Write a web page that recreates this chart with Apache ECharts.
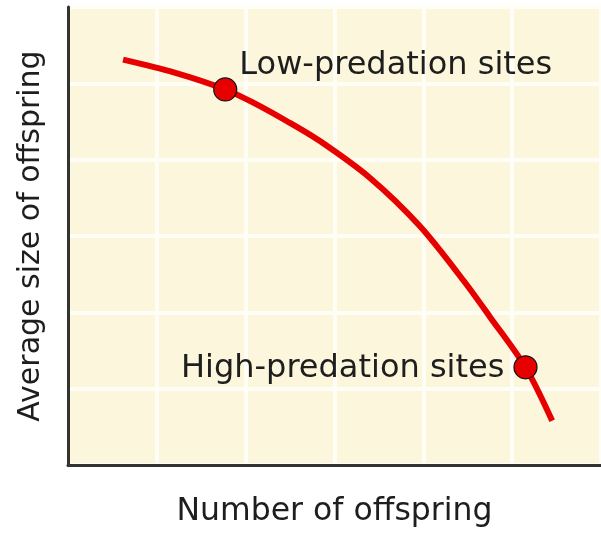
<!DOCTYPE html>
<html>
<head>
<meta charset="utf-8">
<script src="https://cdn.jsdelivr.net/npm/echarts@6/dist/echarts.min.js"></script>
<style>
html,body{margin:0;padding:0;background:#ffffff;}
#chart{width:601px;height:533px;}
</style>
</head>
<body>
<div id="chart"></div>
<script>
// Trade-off curve (number of offspring vs average size)
var curveX = [0.62, 1.20, 1.77, 2.08, 2.47, 2.84, 3.40, 3.96, 4.45, 4.75, 5.15, 5.45];
var curveY = [5.31, 5.14, 4.92, 4.75, 4.50, 4.24, 3.76, 3.13, 2.42, 1.94, 1.28, 0.58];
// Marked sites
var siteNames = ['Low-predation sites', 'High-predation sites'];
var siteX = [1.77, 5.15];
var siteY = [4.92, 1.28];
// Axis titles
var xAxisTitle = 'Number of offspring';
var yAxisTitle = 'Average size of offspring';

var curveData = curveX.map(function (x, i) { return [x, curveY[i]]; });
var siteLabelPos = ['right', 'left'];
var siteLabelOffset = [[0, -24], [0, 1]];
var siteData = siteX.map(function (x, i) {
  return {
    name: siteNames[i],
    value: [x, siteY[i]],
    label: {
      show: true,
      formatter: '{b}',
      position: siteLabelPos[i],
      distance: i === 0 ? 2 : 9,
      offset: siteLabelOffset[i]
    }
  };
});

var FONT = 'DejaVu Sans';
var chart = echarts.init(document.getElementById('chart'), null, {renderer: 'canvas'});
chart.setOption({
  animation: false,
  backgroundColor: '#ffffff',
  grid: {
    left: 68, right: 0, top: 7, bottom: 63,
    show: true, backgroundColor: '#fcf6dd', borderWidth: 0
  },
  xAxis: {
    type: 'value', min: 0, max: 6, interval: 1,
    name: xAxisTitle, nameLocation: 'middle', nameGap: 31,
    nameTextStyle: {fontFamily: FONT, fontSize: 31.5, color: '#1e1e1e'},
    axisLine: {show: true, lineStyle: {color: '#333333', width: 3}},
    axisTick: {show: false},
    axisLabel: {show: false},
    splitLine: {show: true, lineStyle: {color: '#fffef6', width: 4}}
  },
  yAxis: {
    type: 'value', min: 0, max: 6, interval: 1,
    name: yAxisTitle, nameLocation: 'middle', nameGap: 22,
    nameTextStyle: {fontFamily: FONT, fontSize: 30, color: '#1e1e1e'},
    axisLine: {show: true, lineStyle: {color: '#333333', width: 3}},
    axisTick: {show: false},
    axisLabel: {show: false},
    splitLine: {show: true, lineStyle: {color: '#fffef6', width: 4}}
  },
  series: [
    {
      type: 'line',
      data: curveData,
      smooth: 0.3,
      showSymbol: false,
      lineStyle: {color: '#e60000', width: 6},
      z: 3
    },
    {
      type: 'scatter',
      data: siteData,
      symbol: 'circle',
      symbolSize: 23,
      itemStyle: {color: '#e60000', borderColor: '#111111', borderWidth: 1.2, opacity: 1},
      label: {fontFamily: FONT, fontSize: 32, color: '#1e1e1e'},
      z: 4
    }
  ]
});
</script>
</body>
</html>
